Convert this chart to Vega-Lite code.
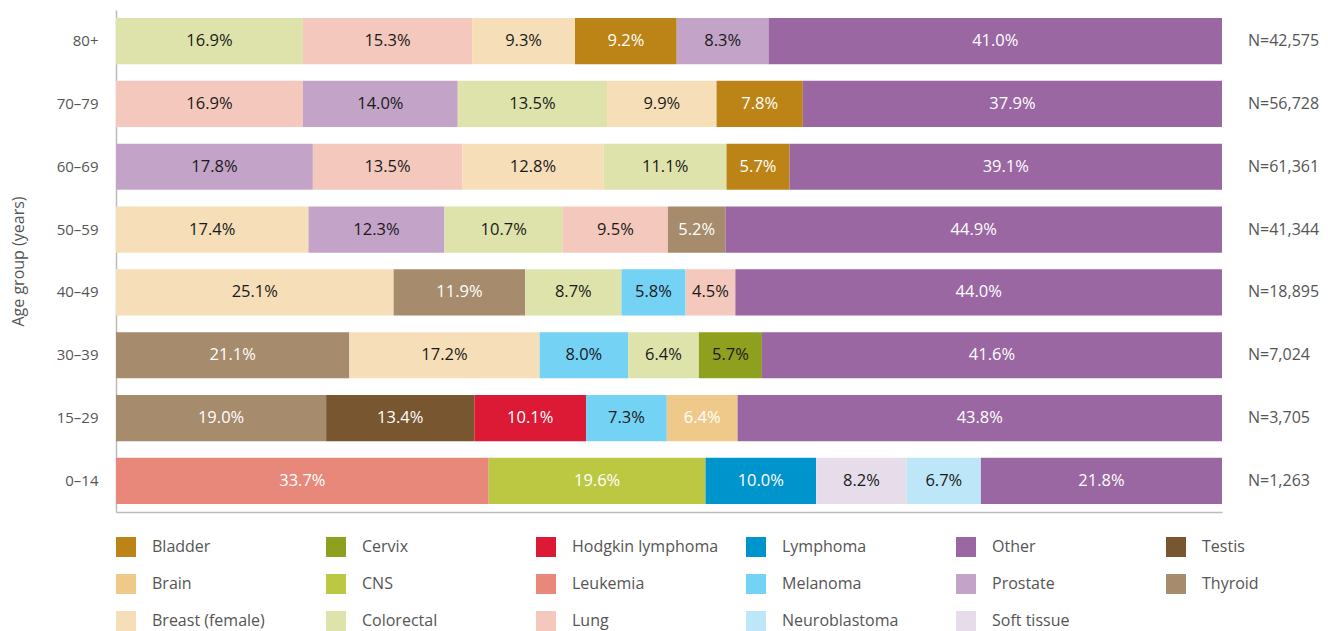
{
  "$schema": "https://vega.github.io/schema/vega-lite/v6.json",
  "width": 1106,
  "height": 502,
  "autosize": {"type": "none"},
  "padding": {"left": 116, "top": 10, "right": 106, "bottom": 119},
  "background": "white",
  "config": {
    "font": "Open Sans",
    "view": {"stroke": null},
    "axis": {"labelFont": "Open Sans", "titleFont": "Open Sans"},
    "legend": {"labelFont": "Open Sans"}
  },
  "datasets": {
    "shares": [
      {"age": "80+", "cancer": "Colorectal", "pct": 16.9, "rank": 1},
      {"age": "80+", "cancer": "Lung", "pct": 15.3, "rank": 2},
      {"age": "80+", "cancer": "Breast (female)", "pct": 9.3, "rank": 3},
      {"age": "80+", "cancer": "Bladder", "pct": 9.2, "rank": 4},
      {"age": "80+", "cancer": "Prostate", "pct": 8.3, "rank": 5},
      {"age": "80+", "cancer": "Other", "pct": 41.0, "rank": 6},
      {"age": "70–79", "cancer": "Lung", "pct": 16.9, "rank": 1},
      {"age": "70–79", "cancer": "Prostate", "pct": 14.0, "rank": 2},
      {"age": "70–79", "cancer": "Colorectal", "pct": 13.5, "rank": 3},
      {"age": "70–79", "cancer": "Breast (female)", "pct": 9.9, "rank": 4},
      {"age": "70–79", "cancer": "Bladder", "pct": 7.8, "rank": 5},
      {"age": "70–79", "cancer": "Other", "pct": 37.9, "rank": 6},
      {"age": "60–69", "cancer": "Prostate", "pct": 17.8, "rank": 1},
      {"age": "60–69", "cancer": "Lung", "pct": 13.5, "rank": 2},
      {"age": "60–69", "cancer": "Breast (female)", "pct": 12.8, "rank": 3},
      {"age": "60–69", "cancer": "Colorectal", "pct": 11.1, "rank": 4},
      {"age": "60–69", "cancer": "Bladder", "pct": 5.7, "rank": 5},
      {"age": "60–69", "cancer": "Other", "pct": 39.1, "rank": 6},
      {"age": "50–59", "cancer": "Breast (female)", "pct": 17.4, "rank": 1},
      {"age": "50–59", "cancer": "Prostate", "pct": 12.3, "rank": 2},
      {"age": "50–59", "cancer": "Colorectal", "pct": 10.7, "rank": 3},
      {"age": "50–59", "cancer": "Lung", "pct": 9.5, "rank": 4},
      {"age": "50–59", "cancer": "Thyroid", "pct": 5.2, "rank": 5},
      {"age": "50–59", "cancer": "Other", "pct": 44.9, "rank": 6},
      {"age": "40–49", "cancer": "Breast (female)", "pct": 25.1, "rank": 1},
      {"age": "40–49", "cancer": "Thyroid", "pct": 11.9, "rank": 2},
      {"age": "40–49", "cancer": "Colorectal", "pct": 8.7, "rank": 3},
      {"age": "40–49", "cancer": "Melanoma", "pct": 5.8, "rank": 4},
      {"age": "40–49", "cancer": "Lung", "pct": 4.5, "rank": 5},
      {"age": "40–49", "cancer": "Other", "pct": 44.0, "rank": 6},
      {"age": "30–39", "cancer": "Thyroid", "pct": 21.1, "rank": 1},
      {"age": "30–39", "cancer": "Breast (female)", "pct": 17.2, "rank": 2},
      {"age": "30–39", "cancer": "Melanoma", "pct": 8.0, "rank": 3},
      {"age": "30–39", "cancer": "Colorectal", "pct": 6.4, "rank": 4},
      {"age": "30–39", "cancer": "Cervix", "pct": 5.7, "rank": 5},
      {"age": "30–39", "cancer": "Other", "pct": 41.6, "rank": 6},
      {"age": "15–29", "cancer": "Thyroid", "pct": 19.0, "rank": 1},
      {"age": "15–29", "cancer": "Testis", "pct": 13.4, "rank": 2},
      {"age": "15–29", "cancer": "Hodgkin lymphoma", "pct": 10.1, "rank": 3},
      {"age": "15–29", "cancer": "Melanoma", "pct": 7.3, "rank": 4},
      {"age": "15–29", "cancer": "Brain", "pct": 6.4, "rank": 5},
      {"age": "15–29", "cancer": "Other", "pct": 43.8, "rank": 6},
      {"age": "0–14", "cancer": "Leukemia", "pct": 33.7, "rank": 1},
      {"age": "0–14", "cancer": "CNS", "pct": 19.6, "rank": 2},
      {"age": "0–14", "cancer": "Lymphoma", "pct": 10.0, "rank": 3},
      {"age": "0–14", "cancer": "Soft tissue", "pct": 8.2, "rank": 4},
      {"age": "0–14", "cancer": "Neuroblastoma", "pct": 6.7, "rank": 5},
      {"age": "0–14", "cancer": "Other", "pct": 21.8, "rank": 6}
    ],
    "totals": [
      {"age": "80+", "n": "N=42,575"},
      {"age": "70–79", "n": "N=56,728"},
      {"age": "60–69", "n": "N=61,361"},
      {"age": "50–59", "n": "N=41,344"},
      {"age": "40–49", "n": "N=18,895"},
      {"age": "30–39", "n": "N=7,024"},
      {"age": "15–29", "n": "N=3,705"},
      {"age": "0–14", "n": "N=1,263"}
    ]
  },
  "layer": [
    {
      "data": {"name": "shares"},
      "transform": [
        {"stack": "pct", "groupby": ["age"], "sort": [{"field": "rank", "order": "ascending"}], "as": ["x0", "x1"]},
        {"calculate": "(datum.x0 + datum.x1) / 2", "as": "mid"},
        {"calculate": "format(datum.pct, '.1f') + '%'", "as": "label"}
      ],
      "layer": [
        {
          "mark": {"type": "bar"},
          "encoding": {
            "y": {
              "field": "age", "type": "nominal",
              "sort": ["80+", "70–79", "60–69", "50–59", "40–49", "30–39", "15–29", "0–14"],
              "scale": {"paddingInner": 0.266, "paddingOuter": 0.128},
              "axis": {
                "title": "Age group (years)", "titleFontSize": 16, "titleFontWeight": "normal", "titleColor": "#555555",
                "titlePadding": 30,
                "labelFontSize": 15, "labelColor": "#555555", "labelPadding": 18,
                "ticks": false, "domainColor": "#bbbbbb", "domainWidth": 1.5
              }
            },
            "x": {
              "field": "x0", "type": "quantitative",
              "scale": {"domain": [0, 100], "nice": false},
              "axis": {"title": null, "labels": false, "ticks": false, "grid": false, "domainColor": "#bbbbbb", "domainWidth": 1.5}
            },
            "x2": {"field": "x1"},
            "color": {
              "field": "cancer", "type": "nominal",
              "scale": {
                "domain": ["Bladder", "Cervix", "Hodgkin lymphoma", "Lymphoma", "Other", "Testis",
                           "Brain", "CNS", "Leukemia", "Melanoma", "Prostate", "Thyroid",
                           "Breast (female)", "Colorectal", "Lung", "Neuroblastoma", "Soft tissue"],
                "range": ["#bc8416", "#8f9f1e", "#dc1a35", "#0094cc", "#9a67a2", "#78562f",
                          "#efc98a", "#bdc842", "#e8887a", "#74d2f5", "#c3a3c8", "#a68b6d",
                          "#f6dfb8", "#dee3ab", "#f4c8bc", "#bde6f9", "#e7ddea"]
              },
              "legend": {
                "title": null, "orient": "none", "legendX": 0, "legendY": 527,
                "direction": "horizontal", "columns": 6, "gridAlign": "all",
                "symbolType": "square", "symbolSize": 400, "symbolStrokeWidth": 0,
                "labelFontSize": 16, "labelColor": "#555555", "labelOffset": 16,
                "rowPadding": 17, "columnPadding": 27, "labelLimit": 300
              }
            }
          }
        },
        {
          "mark": {"type": "text", "fontSize": 16.5, "baseline": "middle", "align": "center"},
          "encoding": {
            "y": {"field": "age", "type": "nominal", "sort": ["80+", "70–79", "60–69", "50–59", "40–49", "30–39", "15–29", "0–14"]},
            "x": {"field": "mid", "type": "quantitative"},
            "text": {"field": "label"},
            "color": {
              "field": "cancer", "type": "nominal",
              "scale": {
                "domain": ["Bladder", "Other", "Thyroid", "Testis", "Hodgkin lymphoma", "Leukemia", "CNS", "Lymphoma", "Brain",
                           "Cervix", "Melanoma", "Colorectal", "Lung", "Breast (female)", "Prostate", "Neuroblastoma", "Soft tissue"],
                "range": ["#ffffff", "#ffffff", "#ffffff", "#ffffff", "#ffffff", "#ffffff", "#ffffff", "#ffffff", "#ffffff",
                          "#1a1a1a", "#1a1a1a", "#1a1a1a", "#1a1a1a", "#1a1a1a", "#1a1a1a", "#1a1a1a", "#1a1a1a"]
              },
              "legend": null
            }
          }
        }
      ],
      "resolve": {"scale": {"color": "independent"}}
    },
    {
      "data": {"name": "totals"},
      "mark": {"type": "text", "fontSize": 16, "align": "left", "baseline": "middle", "dx": 26, "color": "#555555"},
      "encoding": {
        "y": {"field": "age", "type": "nominal", "sort": ["80+", "70–79", "60–69", "50–59", "40–49", "30–39", "15–29", "0–14"]},
        "x": {"datum": 100, "type": "quantitative"},
        "text": {"field": "n"}
      }
    }
  ],
  "resolve": {"scale": {"color": "independent"}}
}
